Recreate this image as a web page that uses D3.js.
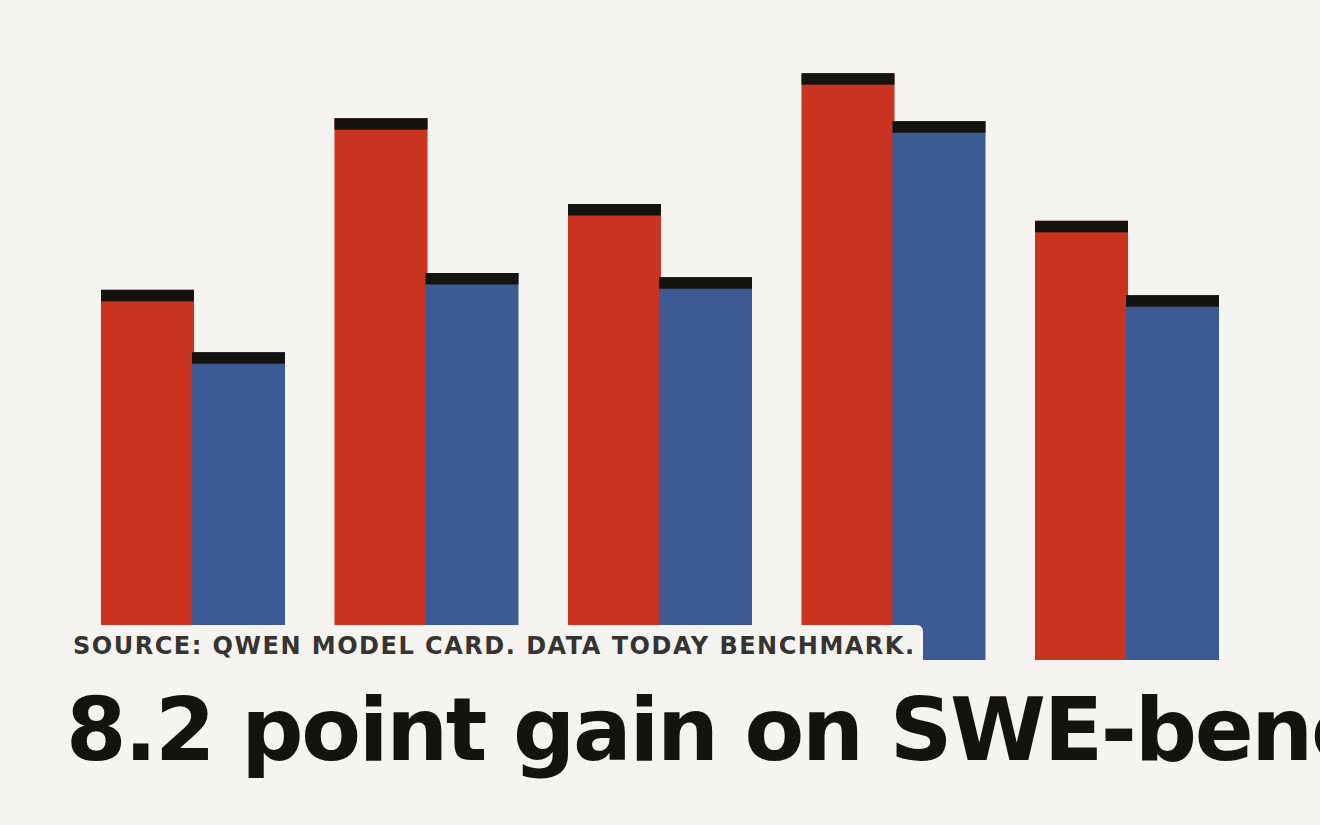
<!DOCTYPE html>
<html>
<head>
<meta charset="utf-8">
<script src="https://cdn.jsdelivr.net/npm/d3@7"></script>
<style>
  html, body { margin: 0; padding: 0; background: #f5f4f0; overflow: hidden; }
  svg { display: block; }
</style>
</head>
<body>
<div id="chart"></div>
<script>
// Benchmarks (no labels shown in the picture), two models per benchmark.
let categories = ["b1", "b2", "b3", "b4", "b5"];
let seriesNames = ["new", "old"];
let newValues = [61.7, 90.3, 76.0, 97.8, 73.2];
let oldValues = [51.3, 64.5, 63.8, 89.8, 60.8];

let titleText = "8.2 point gain on SWE-bench Verified";
let sourceText = "SOURCE: QWEN MODEL CARD. DATA TODAY BENCHMARK.";

let width = 1320, height = 825;
let baseline = 660;

let svg = d3.select("#chart").append("svg")
  .attr("width", width)
  .attr("height", height);

svg.append("rect")
  .attr("width", width).attr("height", height)
  .attr("fill", "#f5f4f0");

// Scales.
let x0 = d3.scaleBand()
  .domain(categories)
  .range([101, 1219])
  .paddingInner(0.212)
  .paddingOuter(0);

let x1 = d3.scaleBand()
  .domain(seriesNames)
  .range([0, x0.bandwidth()])
  .padding(0);

let y = d3.scaleLinear()
  .domain([0, 100])
  .range([baseline, 660 - 600]);

let colors = {new: "#c9331f", old: "#3c5b95"};

let rows = categories.map((c, i) => ({cat: c, values: [
  {key: "new", v: newValues[i]},
  {key: "old", v: oldValues[i]}
]}));

let groups = svg.append("g").attr("class", "bars")
  .selectAll("g")
  .data(rows)
  .enter().append("g")
  .attr("transform", d => `translate(${x0(d.cat)},0)`);

// Main bar body.
groups.selectAll("rect.body")
  .data(d => d.values)
  .enter().append("rect")
  .attr("class", "body")
  .attr("x", d => x1(d.key) - (d.key == "old" ? 1 : 0))
  .attr("y", d => y(d.v))
  .attr("width", x1.bandwidth() + 1)
  .attr("height", d => baseline - y(d.v))
  .attr("fill", d => colors[d.key]);

// Dark cap on top of each bar.
groups.selectAll("rect.cap")
  .data(d => d.values)
  .enter().append("rect")
  .attr("class", "cap")
  .attr("x", d => x1(d.key) - (d.key == "old" ? 1 : 0))
  .attr("y", d => y(d.v))
  .attr("width", x1.bandwidth() + 1)
  .attr("height", 11.5)
  .attr("fill", "#15130f");

// Source label sits on a background-coloured plate over the bar feet.
let plate = svg.append("g").attr("class", "source");
plate.append("path")
  .attr("d", () => {
    let p = d3.path();
    let r = 6, x2 = 923, top = 625;
    p.moveTo(-10, top);
    p.lineTo(x2 - r, top);
    p.arcTo(x2, top, x2, top + r, r);
    p.lineTo(x2, baseline + 1);
    p.lineTo(-10, baseline + 1);
    p.closePath();
    return p.toString();
  })
  .attr("fill", "#f5f4f0");

plate.append("text")
  .attr("x", 73)
  .attr("y", 653.5)
  .attr("font-family", "DejaVu Sans")
  .attr("font-weight", "bold")
  .attr("font-size", 24)
  .attr("letter-spacing", 1.5)
  .attr("fill", "#363430")
  .text(sourceText);

// Headline runs off the right edge, as in the original.
svg.append("text")
  .attr("x", 66)
  .attr("y", 760)
  .attr("font-family", "DejaVu Sans")
  .attr("font-weight", "bold")
  .attr("font-size", 87)
  .attr("letter-spacing", -2.3)
  .attr("fill", "#15130f")
  .text(titleText);
</script>
</body>
</html>
